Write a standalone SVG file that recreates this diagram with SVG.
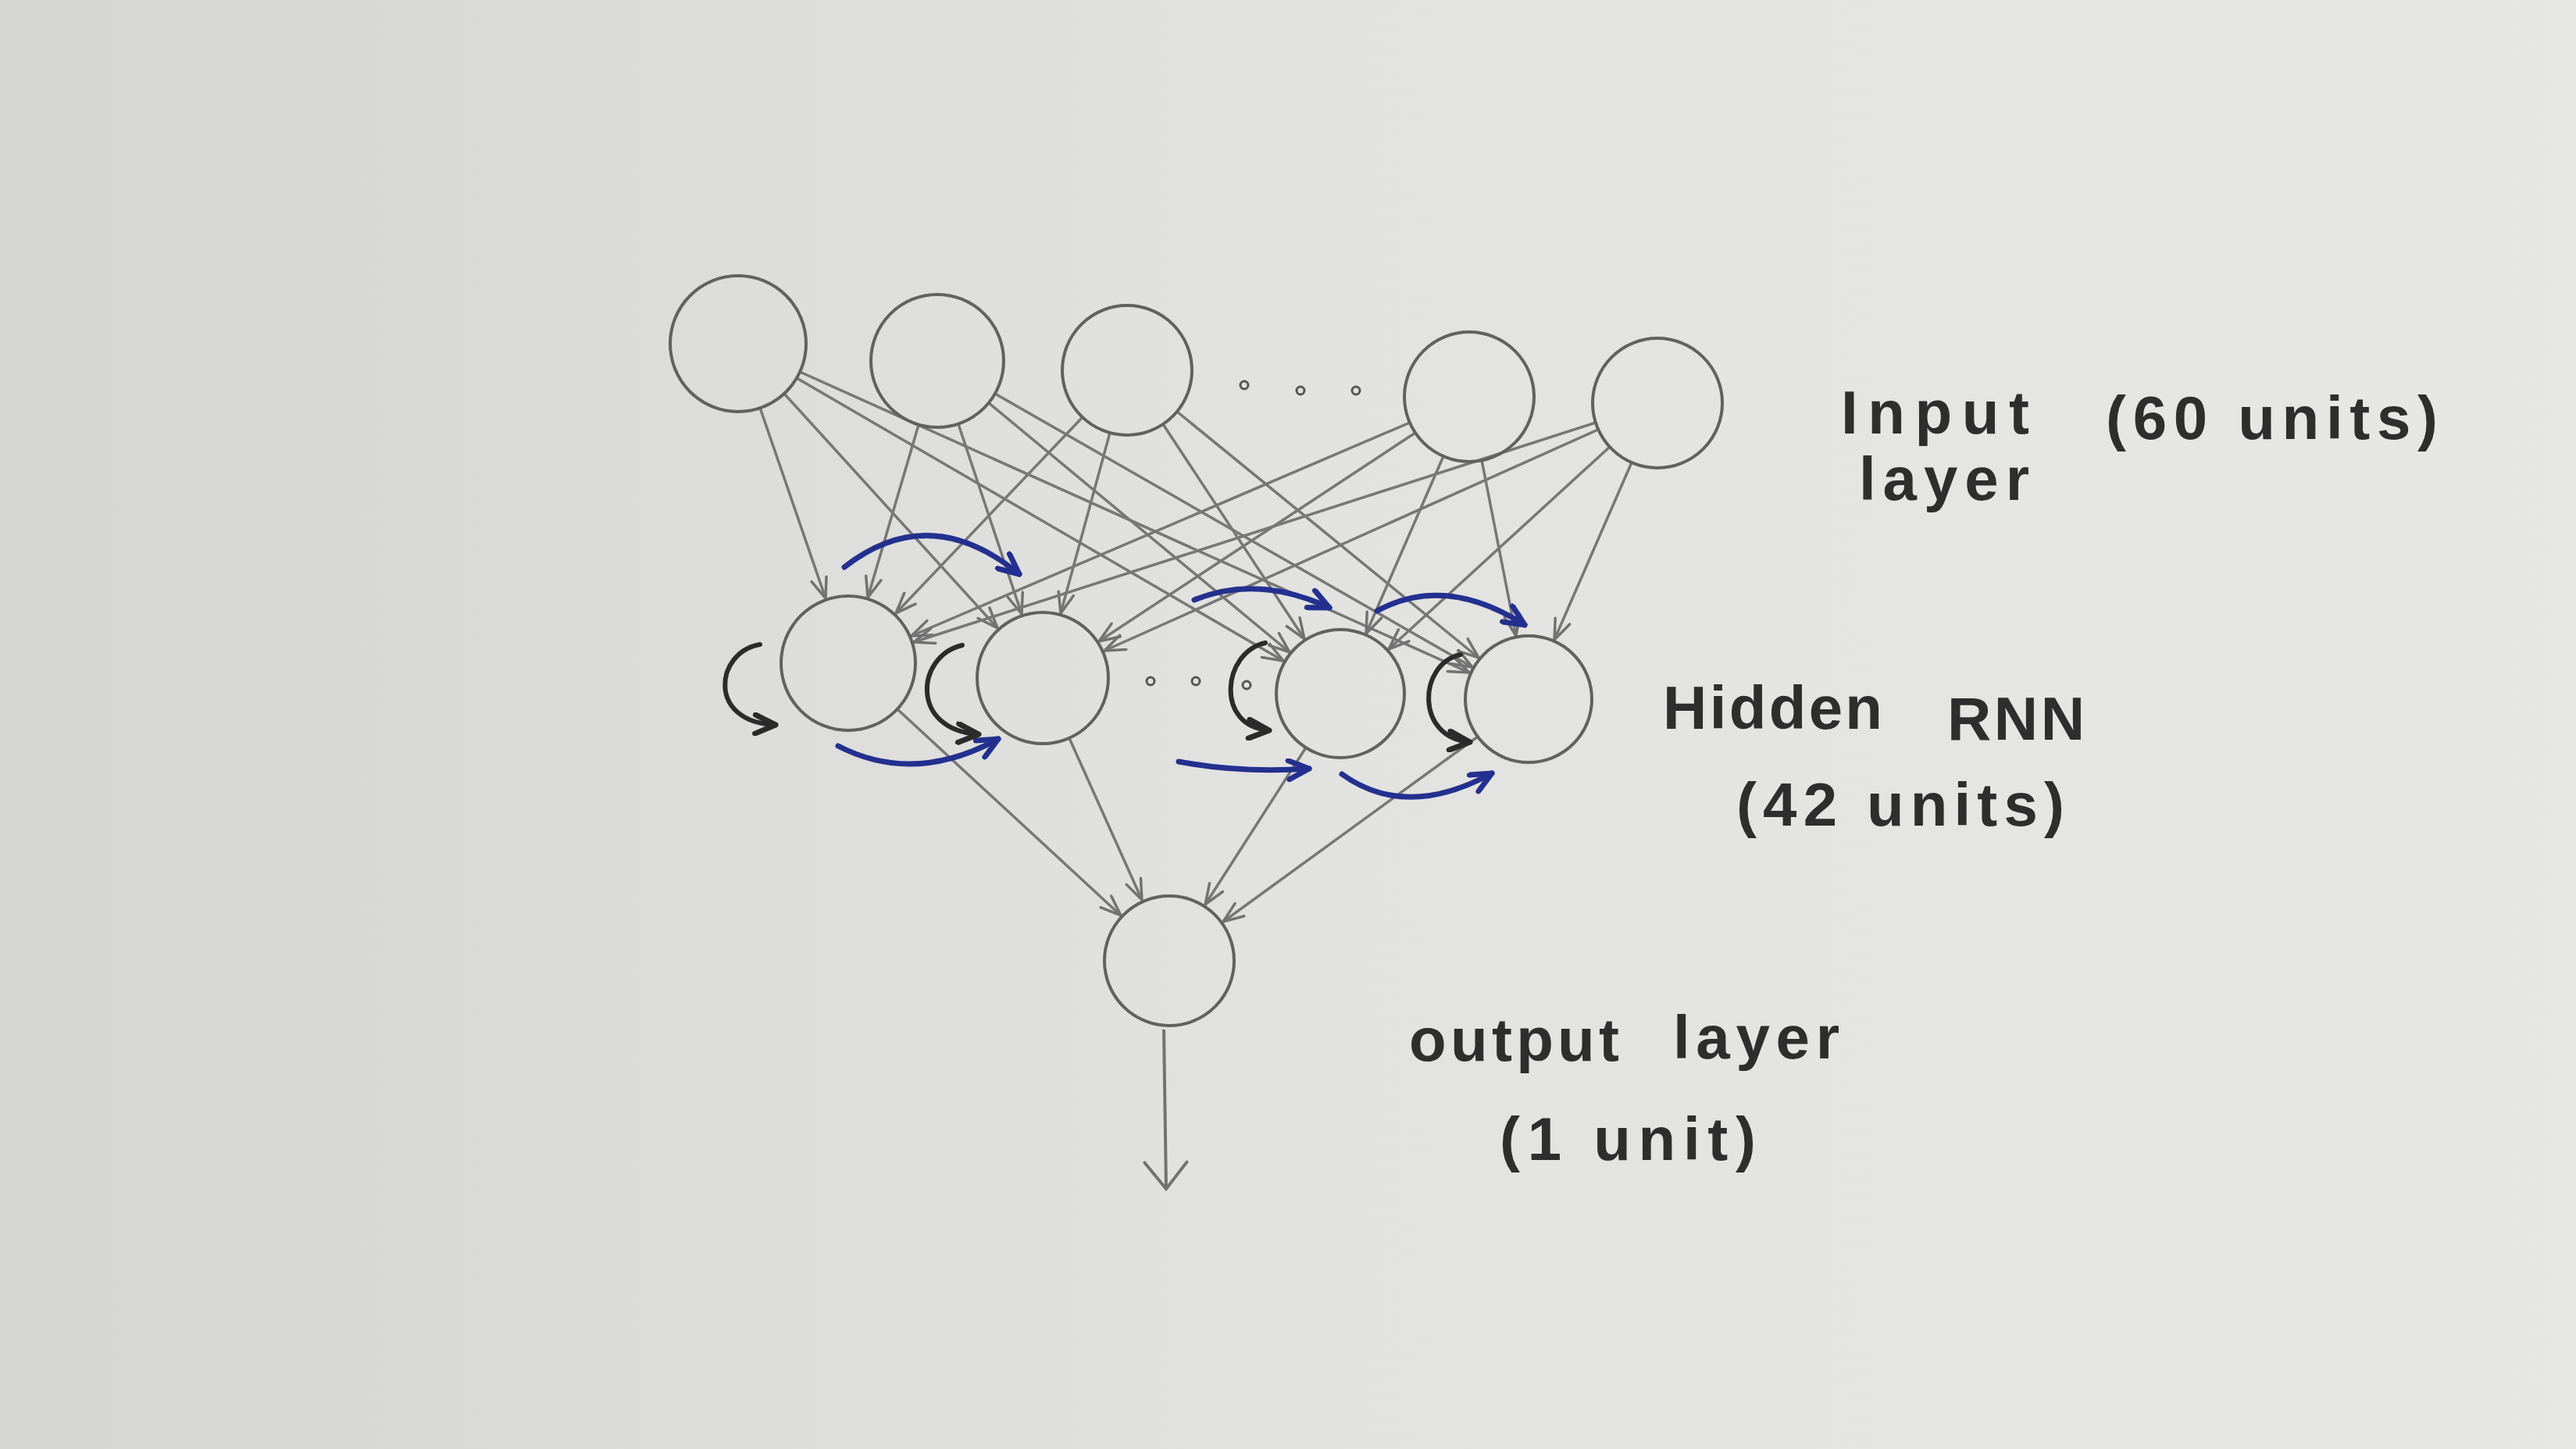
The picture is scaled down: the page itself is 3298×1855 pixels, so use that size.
<svg xmlns="http://www.w3.org/2000/svg" width="3298" height="1855" viewBox="0 0 3298 1855">
<defs>
<linearGradient id="paper" x1="0" y1="0" x2="1" y2="0">
<stop offset="0" stop-color="#d5d6d4"/>
<stop offset="0.5" stop-color="#e2e2e0"/>
<stop offset="1" stop-color="#e7e7e5"/>
</linearGradient>
<marker id="ag" viewBox="0 0 30 24" refX="28" refY="12" markerWidth="30" markerHeight="24" markerUnits="userSpaceOnUse" orient="auto">
<path d="M2,2 L28,12 L2,22" fill="none" stroke="#727272" stroke-width="3.5" stroke-linecap="round"/>
</marker>
<marker id="ao" viewBox="0 0 40 60" refX="37" refY="30" markerWidth="40" markerHeight="60" markerUnits="userSpaceOnUse" orient="auto">
<path d="M3,3 L37,30 L3,57" fill="none" stroke="#727272" stroke-width="4" stroke-linecap="round"/>
</marker>
<marker id="ab" viewBox="0 0 34 30" refX="30" refY="15" markerWidth="34" markerHeight="30" markerUnits="userSpaceOnUse" orient="auto">
<path d="M4,3 L30,15 L4,27" fill="none" stroke="#23308f" stroke-width="7" stroke-linecap="round" stroke-linejoin="round"/>
</marker>
<marker id="ak" viewBox="0 0 34 30" refX="30" refY="15" markerWidth="34" markerHeight="30" markerUnits="userSpaceOnUse" orient="auto">
<path d="M4,3 L30,15 L4,27" fill="none" stroke="#2b2b2b" stroke-width="7" stroke-linecap="round" stroke-linejoin="round"/>
</marker>
</defs>
<style>
.node{fill:none;stroke:#616161;stroke-width:4}
.dot{fill:none;stroke:#555;stroke-width:3}
.edge{fill:none;stroke:#777;stroke-width:3.5;marker-end:url(#ag)}
.out{fill:none;stroke:#727272;stroke-width:4;marker-end:url(#ao)}
.rec{fill:none;stroke:#23308f;stroke-width:7;stroke-linecap:round;marker-end:url(#ab)}
.self{fill:none;stroke:#2b2b2b;stroke-width:6;stroke-linecap:round;marker-end:url(#ak)}
.lbl{font-family:"Liberation Sans","DejaVu Sans",sans-serif;font-size:78px;font-weight:bold;fill:#2e2e2e}
</style>
<rect width="3298" height="1855" fill="url(#paper)"/>

<g id="connectors">
<line class="edge" x1="973" y1="522" x2="1057" y2="766"/>
<line class="edge" x1="1004" y1="504" x2="1277" y2="804"/>
<line class="edge" x1="1020" y1="484" x2="1643" y2="846"/>
<line class="edge" x1="1024" y1="476" x2="1881" y2="861"/>
<line class="edge" x1="1176" y1="544" x2="1111" y2="765"/>
<line class="edge" x1="1227" y1="543" x2="1308" y2="786"/>
<line class="edge" x1="1266" y1="516" x2="1651" y2="835"/>
<line class="edge" x1="1274" y1="504" x2="1885" y2="854"/>
<line class="edge" x1="1386" y1="534" x2="1147" y2="785"/>
<line class="edge" x1="1421" y1="554" x2="1358" y2="785"/>
<line class="edge" x1="1489" y1="543" x2="1670" y2="818"/>
<line class="edge" x1="1507" y1="527" x2="1893" y2="842"/>
<line class="edge" x1="1805" y1="541" x2="1167" y2="814"/>
<line class="edge" x1="1812" y1="554" x2="1407" y2="821"/>
<line class="edge" x1="1848" y1="584" x2="1749" y2="811"/>
<line class="edge" x1="1897" y1="589" x2="1941" y2="814"/>
<line class="edge" x1="2043" y1="541" x2="1170" y2="822"/>
<line class="edge" x1="2046" y1="550" x2="1414" y2="833"/>
<line class="edge" x1="2061" y1="572" x2="1778" y2="831"/>
<line class="edge" x1="2089" y1="592" x2="1990" y2="819"/>
<line class="edge" x1="1149" y1="908" x2="1435" y2="1172"/>
<line class="edge" x1="1369" y1="945" x2="1462" y2="1152"/>
<line class="edge" x1="1672" y1="957" x2="1543" y2="1158"/>
<line class="edge" x1="1892" y1="943" x2="1566" y2="1180"/>
<line class="out" x1="1490" y1="1318" x2="1493" y2="1522"/>
<path class="rec" d="M1081,726 Q1190,641 1305,735"/>
<path class="rec" d="M1529,768 Q1610,735 1702,778"/>
<path class="rec" d="M1763,782 Q1850,735 1952,800"/>
<path class="rec" d="M1073,955 Q1170,1005 1278,946"/>
<path class="rec" d="M1509,975 Q1590,990 1676,984"/>
<path class="rec" d="M1718,991 Q1800,1050 1910,990"/>
<path class="self" d="M973,825 C915,835 905,925 993,928"/>
<path class="self" d="M1232,826 C1172,840 1165,935 1253,940"/>
<path class="self" d="M1620,823 C1565,835 1555,930 1625,935"/>
<path class="self" d="M1870,838 C1815,850 1812,945 1882,950"/>
</g>

<g id="input-1"><circle class="node" cx="945" cy="440" r="87"/></g>
<g id="input-2"><circle class="node" cx="1200" cy="462" r="85"/></g>
<g id="input-3"><circle class="node" cx="1443" cy="474" r="83"/></g>
<g id="input-dots">
<circle class="dot" cx="1593" cy="493" r="5"/>
<circle class="dot" cx="1665" cy="500" r="5"/>
<circle class="dot" cx="1736" cy="500" r="5"/>
</g>
<g id="input-4"><circle class="node" cx="1881" cy="508" r="83"/></g>
<g id="input-5"><circle class="node" cx="2122" cy="516" r="83"/></g>

<g id="hidden-1"><circle class="node" cx="1086" cy="849" r="86"/></g>
<g id="hidden-2"><circle class="node" cx="1335" cy="868" r="84"/></g>
<g id="hidden-dots">
<circle class="dot" cx="1473" cy="872" r="5"/>
<circle class="dot" cx="1531" cy="872" r="5"/>
<circle class="dot" cx="1596" cy="877" r="5"/>
</g>
<g id="hidden-3"><circle class="node" cx="1716" cy="888" r="82"/></g>
<g id="hidden-4"><circle class="node" cx="1957" cy="895" r="81"/></g>

<g id="output"><circle class="node" cx="1497" cy="1230" r="83"/></g>

<g id="labels">
<text class="lbl" x="2357" y="555" textLength="241">Input</text>
<text class="lbl" x="2696" y="562" textLength="425">(60 units)</text>
<text class="lbl" x="2380" y="640" textLength="218">layer</text>
<text class="lbl" x="2129" y="933" textLength="281">Hidden</text>
<text class="lbl" x="2493" y="947" textLength="176">RNN</text>
<text class="lbl" x="2223" y="1057" textLength="420">(42 units)</text>
<text class="lbl" x="1804" y="1358" textLength="269">output</text>
<text class="lbl" x="2142" y="1355" textLength="213">layer</text>
<text class="lbl" x="1920" y="1485" textLength="328">(1 unit)</text>
</g>
</svg>
